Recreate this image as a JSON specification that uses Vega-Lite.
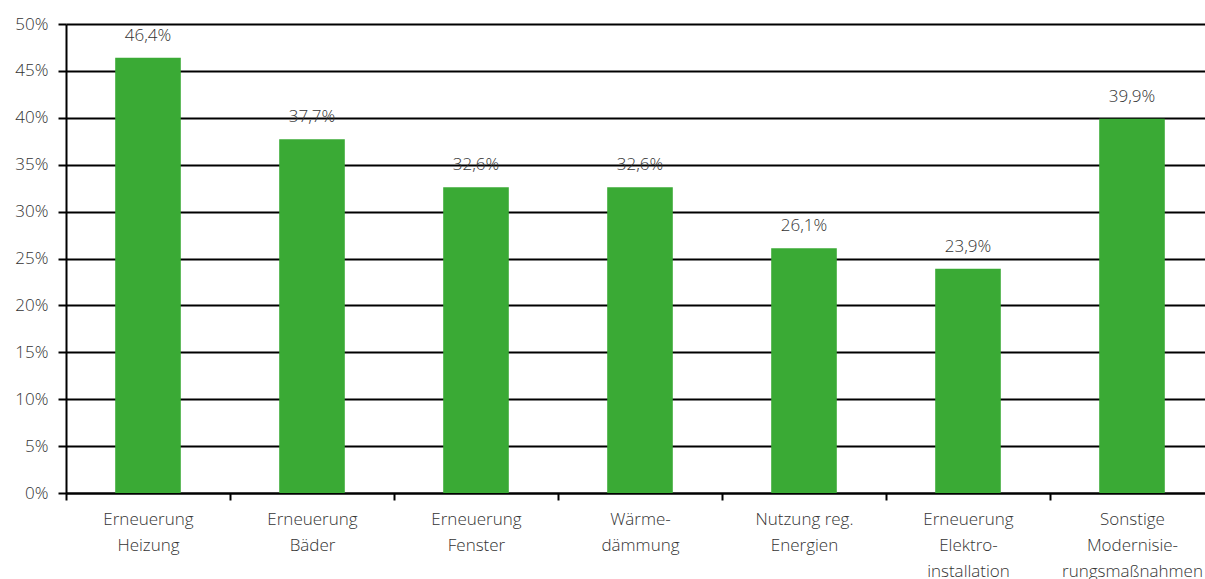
{
  "$schema": "https://vega.github.io/schema/vega-lite/v6.json",
  "width": 1148,
  "height": 469,
  "autosize": {"type": "none"},
  "padding": {"left": 66, "top": 24, "right": 0, "bottom": 86},
  "background": "white",
  "config": {
    "locale": {"number": {"decimal": ",", "thousands": ".", "grouping": [3], "currency": ["", " €"]}},
    "view": {"stroke": null},
    "font": "Open Sans"
  },
  "data": {
    "values": [
      {"k": "Erneuerung|Heizung", "v": 0.464},
      {"k": "Erneuerung|Bäder", "v": 0.377},
      {"k": "Erneuerung|Fenster", "v": 0.326},
      {"k": "Wärme-|dämmung", "v": 0.326},
      {"k": "Nutzung reg.|Energien", "v": 0.261},
      {"k": "Erneuerung|Elektro-|installation", "v": 0.239},
      {"k": "Sonstige|Modernisie-|rungsmaßnahmen", "v": 0.399}
    ]
  },
  "encoding": {
    "x": {
      "field": "k", "type": "nominal", "sort": null,
      "scale": {"paddingInner": 0, "paddingOuter": 0},
      "axis": {
        "title": null, "labelAngle": 0, "tickBand": "extent",
        "labelExpr": "split(datum.label, '|')",
        "labelFont": "Open Sans", "labelFontSize": 17, "labelFontWeight": 300, "labelColor": "#333",
        "labelLineHeight": 26, "labelPadding": 11, "labelBaseline": "top",
        "domainColor": "#000", "domainWidth": 2,
        "tickColor": "#000", "tickWidth": 2, "tickSize": 7,
        "grid": false
      }
    },
    "y": {
      "field": "v", "type": "quantitative",
      "scale": {"domain": [0, 0.5]},
      "axis": {
        "title": null, "values": [0, 0.05, 0.1, 0.15, 0.2, 0.25, 0.3, 0.35, 0.4, 0.45, 0.5],
        "format": ".0%", "labelFont": "Open Sans", "labelFontSize": 17, "labelFontWeight": 300, "labelColor": "#333",
        "labelPadding": 10,
        "domainColor": "#000", "domainWidth": 2,
        "tickColor": "#000", "tickWidth": 2, "tickSize": 8,
        "grid": true, "gridColor": "#000", "gridWidth": 2
      }
    }
  },
  "layer": [
    {
      "mark": {"type": "bar", "color": "#3aaa35", "width": {"band": 0.4}}
    },
    {
      "mark": {"type": "text", "dy": -22, "fontSize": 17, "fontWeight": 300, "color": "#333", "font": "Open Sans", "baseline": "middle"},
      "encoding": {"text": {"field": "v", "type": "quantitative", "format": ".1%"}}
    }
  ]
}
